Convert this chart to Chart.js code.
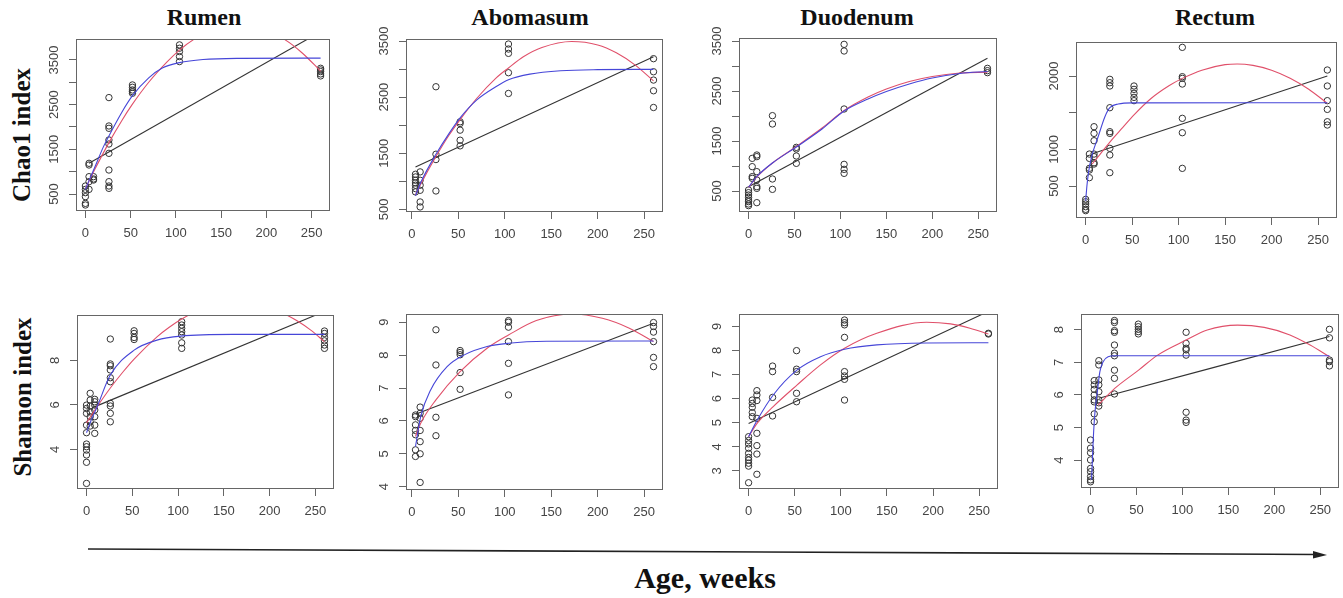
<!DOCTYPE html>
<html>
<head>
<meta charset="utf-8">
<script src="https://cdn.jsdelivr.net/npm/chart.js@4.4.1/dist/chart.umd.min.js"></script>
<style>
  body { margin: 0; background: #fff; }
  #page { position: relative; width: 1343px; height: 598px; overflow: hidden; background: #fff; }
  .panel { position: absolute; }
  .title { position: absolute; font: bold 24px "Liberation Serif", "Times New Roman", serif; color: #111;
           transform: translate(-50%, -50%); white-space: nowrap; }
  .rowlab { position: absolute; font: bold 25px "Liberation Serif", "Times New Roman", serif; color: #111;
            transform: translate(-50%, -50%) rotate(-90deg); white-space: nowrap; }
  .xlab { position: absolute; font: bold 30px "Liberation Serif", "Times New Roman", serif; color: #111;
          transform: translate(-50%, -50%); white-space: nowrap; }
</style>
</head>
<body>
<div id="page">
  <div class="title" style="left:204px;top:17px">Rumen</div>
  <div class="title" style="left:530px;top:17px">Abomasum</div>
  <div class="title" style="left:857px;top:17px">Duodenum</div>
  <div class="title" style="left:1215px;top:17px">Rectum</div>
  <div class="rowlab" style="left:22px;top:135px">Chao1 index</div>
  <div class="rowlab" style="left:23px;top:397px">Shannon index</div>
  <svg style="position:absolute;left:0;top:0" width="1343" height="598">
    <line x1="88" y1="549" x2="1316" y2="554.5" stroke="#222" stroke-width="1.6"/>
    <polygon points="1327,555 1313,551 1313,558.5" fill="#222"/>
  </svg>
  <div class="xlab" style="left:705px;top:578px">Age, weeks</div>
</div>

<script>
// sampling ages (weeks), one group of values per age
const ages = [0, 4, 9, 26, 52, 104, 260];
const xTicks = [0, 50, 100, 150, 200, 250];

// Chao1 index
const rumenChao1 = [
  [679, 604, 530, 440, 291, 254],
  [1187, 1149, 888, 776, 604],
  [888, 836, 813],
  [2657, 2022, 1970, 1709, 1619, 1410, 1037, 776, 679, 627],
  [2940, 2888, 2828, 2791, 2754],
  [3836, 3761, 3687, 3575, 3463],
  [3313, 3276, 3239, 3187, 3142]
];
const abomasumChao1 = [
  [],
  [1125, 1077, 1018, 970, 929, 869, 810],
  [1167, 1018, 929, 839, 631, 542],
  [2685, 1482, 1387, 827],
  [2060, 2030, 1911, 1732, 1631],
  [3446, 3357, 3280, 2935, 2565],
  [3185, 2952, 2804, 2613, 2315]
];
const duodenumChao1 = [
  [520, 467, 420, 373, 320, 287, 240, 207],
  [1153, 987, 787, 753],
  [1220, 1187, 887, 720, 587, 553, 267],
  [2007, 1840, 740, 533],
  [1373, 1340, 1200, 1053],
  [3433, 3300, 2140, 1033, 933, 853],
  [2953, 2907, 2867]
];
const rectumChao1 = [
  [318, 286, 255, 218, 182, 164],
  [936, 877, 741, 718, 614],
  [1309, 1218, 1118, 936, 900, 818, 800],
  [1955, 1909, 1864, 1568, 1241, 1218, 1014, 923, 682],
  [1864, 1818, 1764, 1709, 1664],
  [2391, 1991, 1968, 1891, 1423, 1227, 741],
  [2082, 1864, 1664, 1545, 1377, 1332]
];

// Shannon index
const rumenShannon = [
  [5.99, 5.84, 5.62, 5.09, 4.75, 4.24, 4.12, 3.97, 3.75, 3.42, 2.47],
  [6.52, 6.22, 5.95, 5.69, 5.47, 5.24, 5.05],
  [6.25, 6.14, 5.99, 5.77, 5.47, 5.09, 4.72],
  [8.96, 7.84, 7.76, 7.57, 7.22, 7.04, 6.07, 5.95, 5.62, 5.24],
  [9.33, 9.21, 9.03, 8.94],
  [9.74, 9.59, 9.44, 9.29, 9.14, 8.79, 8.54],
  [9.32, 9.21, 9.03, 8.88, 8.69, 8.54]
];
const abomasumShannon = [
  [],
  [6.18, 6.13, 5.88, 5.71, 5.58, 5.12, 4.92],
  [6.42, 6.23, 6.08, 5.71, 5.37, 5.0, 4.13],
  [8.77, 7.70, 6.11, 5.55],
  [8.14, 8.08, 8.01, 7.47, 6.96],
  [9.05, 9.0, 8.85, 8.41, 7.75, 6.79],
  [8.99, 8.87, 8.70, 8.41, 7.93, 7.65]
];
const duodenumShannon = [
  [4.42, 4.26, 4.12, 3.94, 3.73, 3.56, 3.45, 3.32, 3.20, 2.51],
  [5.94, 5.80, 5.64, 5.42, 5.25],
  [6.33, 6.15, 5.92, 5.18, 4.56, 4.05, 3.70, 2.86],
  [7.35, 7.12, 6.05, 5.28],
  [7.99, 7.22, 7.12, 6.22, 5.87],
  [9.26, 9.15, 9.06, 8.54, 7.12, 6.94, 6.80, 5.94],
  [8.71, 8.68]
];
const rectumShannon = [
  [4.62, 4.37, 4.23, 4.01, 3.75, 3.65, 3.50, 3.40, 3.34],
  [6.44, 6.31, 6.17, 6.0, 5.85, 5.79, 5.42, 5.18],
  [7.05, 6.92, 6.46, 6.31, 6.10, 5.85, 5.76, 5.66],
  [8.28, 8.22, 7.97, 7.92, 7.53, 7.28, 7.20, 6.76, 6.51, 6.03],
  [8.17, 8.09, 8.01, 7.94, 7.87],
  [7.92, 7.58, 7.43, 7.38, 7.22, 5.47, 5.23, 5.16],
  [8.01, 7.75, 7.07, 7.02, 6.89]
];

// fitted curves: [age, value]
// linear (black), quadratic (red), asymptotic (blue)
const rumenChao1Lin = [[4, 1190], [260, 4130]];
const rumenChao1Quad = [[0, 620], [10, 1035], [26, 1650], [40, 2135], [52, 2510], [70, 3000], [90, 3450],
  [104, 3720], [120, 3960], [140, 4160], [170, 4270], [200, 4160], [220, 3960], [240, 3650], [260, 3250]];
const rumenChao1Asym = [[0, 600], [4, 800], [10, 1080], [20, 1560], [26, 1800], [40, 2320], [52, 2700],
  [70, 3100], [85, 3320], [104, 3440], [130, 3510], [170, 3535], [260, 3540]];

const abomasumChao1Lin = [[4, 1256], [260, 3220]];
const abomasumChao1Quad = [[4, 760], [10, 960], [26, 1440], [40, 1820], [52, 2100], [70, 2480], [90, 2830],
  [104, 3020], [120, 3220], [140, 3385], [172, 3492], [200, 3430], [220, 3290], [240, 3075], [260, 2790]];
const abomasumChao1Asym = [[4, 740], [10, 990], [26, 1480], [40, 1850], [52, 2130], [70, 2450], [90, 2680],
  [104, 2810], [127, 2910], [160, 2970], [200, 2990], [260, 2995]];

const duodenumChao1Lin = [[0, 587], [260, 3153]];
const duodenumChao1Quad = [[0, 570], [9, 780], [26, 1060], [52, 1390], [80, 1760], [104, 2110], [130, 2380],
  [150, 2540], [175, 2690], [200, 2790], [230, 2860], [260, 2875]];
const duodenumChao1Asym = [[0, 575], [9, 790], [26, 1060], [52, 1380], [80, 1740], [104, 2100], [130, 2340],
  [150, 2490], [175, 2640], [200, 2760], [230, 2850], [260, 2890]];

const rectumChao1Lin = [[7, 940], [260, 2000]];
const rectumChao1Quad = [[7, 800], [15, 925], [26, 1100], [40, 1300], [52, 1470], [70, 1690], [90, 1870],
  [104, 1968], [125, 2080], [150, 2155], [163, 2165], [180, 2145], [200, 2080], [220, 1970], [240, 1820], [260, 1627]];
const rectumChao1Asym = [[0, 300], [1.5, 520], [3, 680], [6.4, 900], [13.5, 1175], [20.7, 1445], [26, 1568],
  [35, 1618], [50, 1634], [260, 1636]];

const rumenShannonLin = [[8, 5.9], [260, 10.2]];
const rumenShannonQuad = [[0, 5.19], [9, 5.76], [26, 6.76], [40, 7.49], [52, 8.06], [77, 9.06], [90, 9.48],
  [104, 9.86], [120, 10.2], [140, 10.48], [165, 10.6], [190, 10.49], [210, 10.21], [230, 9.78], [245, 9.36], [260, 8.84]];
const rumenShannonAsym = [[0, 4.75], [4, 5.2], [11.6, 5.92], [26, 7.34], [52, 8.46], [77, 8.91], [103, 9.09],
  [160, 9.17], [260, 9.17]];

const abomasumShannonLin = [[4, 6.2], [260, 8.97]];
const abomasumShannonQuad = [[4, 5.53], [9.6, 5.93], [26, 6.64], [52, 7.5], [81, 8.21], [104, 8.61], [134, 9.05],
  [172, 9.25], [205, 9.12], [234, 8.82], [260, 8.41]];
const abomasumShannonAsym = [[4, 5.22], [9.6, 6.13], [20.3, 6.94], [38, 7.65], [56, 8.0], [81, 8.26], [104, 8.36],
  [145, 8.42], [260, 8.43]];

const duodenumShannonLin = [[0, 4.97], [260, 9.62]];
const duodenumShannonQuad = [[0, 4.42], [9.4, 4.98], [26.7, 5.67], [52.7, 6.57], [78, 7.40], [104, 8.09],
  [139, 8.71], [193, 9.17], [219, 9.10], [240, 8.92], [260, 8.68]];
const duodenumShannonAsym = [[0, 4.42], [9.4, 5.11], [26.7, 6.15], [52.7, 7.19], [78, 7.74], [104, 8.05],
  [139, 8.23], [193, 8.31], [260, 8.32]];

const rectumShannonLin = [[9, 5.9], [260, 7.79]];
const rectumShannonQuad = [[8.3, 5.69], [26.3, 6.20], [52.3, 6.76], [73, 7.22], [104, 7.68], [127, 7.99],
  [160, 8.14], [189, 8.07], [217, 7.84], [239, 7.53], [260, 7.17]];
const rectumShannonAsym = [[1.1, 3.40], [2.9, 4.62], [4.7, 5.44], [7.6, 6.15], [10.1, 6.71], [13.7, 7.02],
  [19.1, 7.17], [26.3, 7.2], [260, 7.2]];

// y axis ticks and which of them carry a label
const chaoTicks = [500, 1000, 1500, 2000, 2500, 3000, 3500];
const chaoLabels = [500, 1500, 2500, 3500];
const rectumChaoTicks = [500, 1000, 1500, 2000];
const rectumChaoLabels = [500, 1000, 2000];
const rumenShanTicks = [4, 6, 8];
const abomasumShanTicks = [4, 5, 6, 7, 8, 9];
const duodenumShanTicks = [3, 4, 5, 6, 7, 8, 9];
const rectumShanTicks = [4, 5, 6, 7, 8];

// layout: plot box [left, top, right, bottom] on the page, axis ranges
const panels = [
  { box: [76, 39, 330, 211], x: [-10.4, 270.4], y: [120, 3968], yTicks: chaoTicks, yLabels: chaoLabels,
    pts: rumenChao1, lin: rumenChao1Lin, quad: rumenChao1Quad, asym: rumenChao1Asym },
  { box: [406, 39, 663, 212], x: [-6.2, 270.2], y: [452, 3536], yTicks: chaoTicks, yLabels: chaoLabels,
    pts: abomasumChao1, lin: abomasumChao1Lin, quad: abomasumChao1Quad, asym: abomasumChao1Asym },
  { box: [739, 38, 997, 212], x: [-10.4, 270.4], y: [80, 3560], yTicks: chaoTicks, yLabels: chaoLabels,
    pts: duodenumChao1, lin: duodenumChao1Lin, quad: duodenumChao1Quad, asym: duodenumChao1Asym },
  { box: [1076, 42, 1337, 218], x: [-10.4, 270.4], y: [64, 2464], yTicks: rectumChaoTicks, yLabels: rectumChaoLabels,
    pts: rectumChao1, lin: rectumChao1Lin, quad: rectumChao1Quad, asym: rectumChao1Asym },
  { box: [77, 315, 334, 489], x: [-10.4, 270.4], y: [2.22, 10.04], yTicks: rumenShanTicks, yLabels: rumenShanTicks,
    pts: rumenShannon, lin: rumenShannonLin, quad: rumenShannonQuad, asym: rumenShannonAsym },
  { box: [406, 314, 663, 490], x: [-6.2, 270.2], y: [3.9, 9.25], yTicks: abomasumShanTicks, yLabels: abomasumShanTicks,
    pts: abomasumShannon, lin: abomasumShannonLin, quad: abomasumShannonQuad, asym: abomasumShannonAsym },
  { box: [739, 314, 998, 489], x: [-10.4, 270.4], y: [2.25, 9.51], yTicks: duodenumShanTicks, yLabels: duodenumShanTicks,
    pts: duodenumShannon, lin: duodenumShannonLin, quad: duodenumShannonQuad, asym: duodenumShannonAsym },
  { box: [1081, 314, 1339, 488], x: [-10.4, 270.4], y: [3.15, 8.48], yTicks: rectumShanTicks, yLabels: rectumShanTicks,
    pts: rectumShannon, lin: rectumShannonLin, quad: rectumShannonQuad, asym: rectumShannonAsym }
];

const tickFont = { family: '"Liberation Sans", Arial, sans-serif', size: 13 };
const axisGray = '#666';
const padTop = 25;

// R style frame plus vertical y labels
const framePlugin = {
  id: 'frame',
  afterDraw(chart, args, opts) {
    const { ctx, chartArea: a } = chart;
    const ys = chart.scales.y;
    ctx.save();
    ctx.strokeStyle = axisGray;
    ctx.lineWidth = 1;
    ctx.strokeRect(a.left + 0.5, a.top + 0.5, a.right - a.left - 1, a.bottom - a.top - 1);
    ctx.fillStyle = '#444';
    ctx.font = '13px "Liberation Sans", Arial, sans-serif';
    ctx.textAlign = 'center';
    ctx.textBaseline = 'middle';
    opts.labels.forEach(v => {
      ctx.save();
      ctx.translate(a.left - 22, ys.getPixelForValue(v));
      ctx.rotate(-Math.PI / 2);
      ctx.fillText(String(v), 0, 0);
      ctx.restore();
    });
    ctx.restore();
  }
};

function toXY(pairs) {
  return pairs.map(p => ({ x: p[0], y: p[1] }));
}

function groupPoints(groups) {
  return groups.flatMap((vals, i) => vals.map(v => ({ x: ages[i], y: v })));
}

function curve(pairs, color, order) {
  return {
    data: toXY(pairs),
    showLine: true,
    borderColor: color,
    borderWidth: 1.1,
    pointRadius: 0,
    cubicInterpolationMode: 'monotone',
    fill: false,
    order: order
  };
}

const page = document.getElementById('page');

panels.forEach(p => {
  const [L, T, R, B] = p.box;
  const w = R - L + 70, h = B - T + 40 + padTop;
  const holder = document.createElement('div');
  holder.className = 'panel';
  holder.style.left = (L - 60) + 'px';
  holder.style.top = (T - padTop) + 'px';
  holder.style.width = w + 'px';
  holder.style.height = h + 'px';
  const cv = document.createElement('canvas');
  cv.width = w;
  cv.height = h;
  cv.style.width = w + 'px';
  cv.style.height = h + 'px';
  holder.appendChild(cv);
  page.appendChild(holder);

  new Chart(cv.getContext('2d'), {
    type: 'scatter',
    data: {
      datasets: [
        {
          data: groupPoints(p.pts),
          pointStyle: 'circle',
          pointRadius: 3.2,
          pointBorderWidth: 1,
          pointBorderColor: '#333',
          pointBackgroundColor: 'rgba(0,0,0,0)',
          order: 3
        },
        curve(p.lin, '#333', 2),
        curve(p.quad, '#e0506a', 1),
        curve(p.asym, '#4646d8', 0)
      ]
    },
    options: {
      responsive: false,
      animation: false,
      events: [],
      layout: { padding: { left: 0, top: padTop, right: 10, bottom: 0 } },
      plugins: {
        legend: { display: false },
        tooltip: { enabled: false },
        frame: { labels: p.yLabels }
      },
      scales: {
        x: {
          type: 'linear',
          min: p.x[0],
          max: p.x[1],
          afterBuildTicks: s => { s.ticks = xTicks.map(v => ({ value: v })); },
          afterFit: s => { s.height = 40; },
          ticks: { font: tickFont, color: '#444', padding: 8, maxRotation: 0, autoSkip: false },
          grid: { drawOnChartArea: false, drawTicks: true, tickLength: 7, color: axisGray },
          border: { display: false }
        },
        y: {
          type: 'linear',
          min: p.y[0],
          max: p.y[1],
          afterBuildTicks: s => { s.ticks = p.yTicks.map(v => ({ value: v })); },
          afterFit: s => { s.width = 60; },
          ticks: { display: false },
          grid: { drawOnChartArea: false, drawTicks: true, tickLength: 7, color: axisGray },
          border: { display: false }
        }
      }
    },
    plugins: [framePlugin]
  });
});
</script>
</body>
</html>
